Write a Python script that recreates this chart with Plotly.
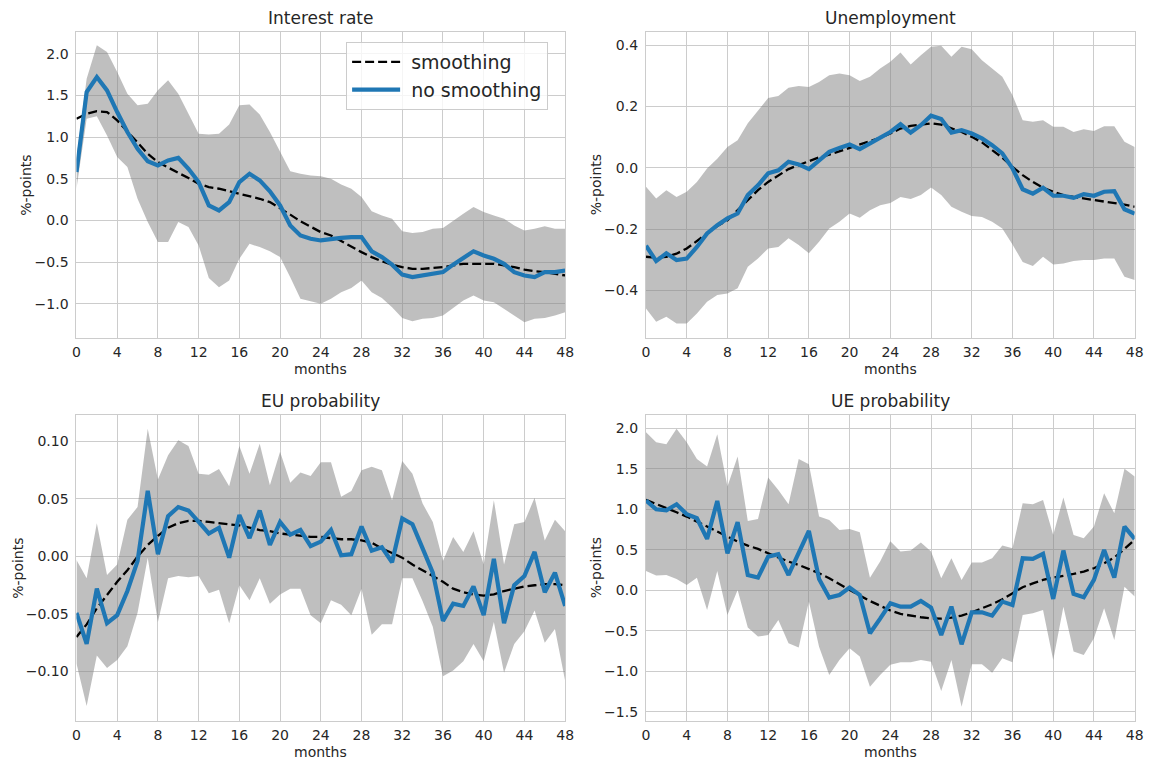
import plotly.graph_objects as go

months = list(range(49))
x_ticks = list(range(0, 49, 4))
titles = ["Interest rate", "Unemployment", "EU probability", "UE probability"]
legend_names = ["\u00a0smoothing", "\u00a0no smoothing"]

# ---- Interest rate ----
ir_smooth = [1.22, 1.28, 1.31, 1.30, 1.20, 1.07, 0.94, 0.80, 0.70, 0.63, 0.57, 0.51, 0.44, 0.40, 0.38, 0.35, 0.32,
             0.29, 0.26, 0.22, 0.15, 0.07, -0.01, -0.08, -0.14, -0.18, -0.25, -0.32, -0.38, -0.44, -0.49, -0.53,
             -0.56, -0.58, -0.58, -0.57, -0.56, -0.54, -0.52, -0.52, -0.52, -0.52, -0.54, -0.56, -0.59, -0.61,
             -0.62, -0.64, -0.66]
ir_raw = [0.58, 1.54, 1.72, 1.56, 1.30, 1.06, 0.86, 0.71, 0.66, 0.72, 0.75, 0.62, 0.46, 0.18, 0.12, 0.22, 0.46,
          0.56, 0.48, 0.35, 0.18, -0.06, -0.18, -0.22, -0.24, -0.22, -0.21, -0.20, -0.20, -0.37, -0.44, -0.53,
          -0.65, -0.68, -0.66, -0.64, -0.62, -0.53, -0.45, -0.37, -0.42, -0.46, -0.52, -0.62, -0.66, -0.68,
          -0.62, -0.62, -0.60]
ir_upper = [0.75, 1.70, 2.10, 2.02, 1.78, 1.52, 1.38, 1.40, 1.56, 1.68, 1.52, 1.28, 1.04, 1.03, 1.04, 1.15, 1.38,
            1.39, 1.27, 1.06, 0.83, 0.59, 0.56, 0.54, 0.53, 0.50, 0.43, 0.38, 0.28, 0.11, 0.06, 0.02, -0.13,
            -0.15, -0.14, -0.10, -0.09, 0.00, 0.08, 0.16, 0.10, 0.06, 0.02, -0.06, -0.12, -0.10, -0.07, -0.10,
            -0.10]
ir_lower = [0.38, 1.22, 1.25, 1.02, 0.76, 0.64, 0.26, -0.02, -0.26, -0.26, -0.02, -0.08, -0.30, -0.69, -0.80,
            -0.72, -0.46, -0.28, -0.32, -0.37, -0.44, -0.68, -0.94, -0.97, -1.00, -0.94, -0.86, -0.81, -0.72,
            -0.86, -0.93, -1.04, -1.17, -1.21, -1.18, -1.17, -1.14, -1.05, -0.96, -0.90, -0.96, -0.98, -1.05,
            -1.14, -1.22, -1.18, -1.17, -1.14, -1.10]

# ---- Unemployment ----
un_smooth = [-0.290, -0.293, -0.290, -0.280, -0.263, -0.239, -0.214, -0.190, -0.171, -0.138, -0.105, -0.073,
             -0.046, -0.024, -0.004, 0.009, 0.022, 0.034, 0.043, 0.054, 0.065, 0.074, 0.085, 0.098, 0.112, 0.128,
             0.137, 0.142, 0.145, 0.141, 0.130, 0.117, 0.101, 0.083, 0.058, 0.033, 0.003, -0.024, -0.046,
             -0.065, -0.078, -0.089, -0.095, -0.100, -0.105, -0.111, -0.114, -0.120, -0.127]
un_raw = [-0.254, -0.304, -0.279, -0.301, -0.296, -0.258, -0.214, -0.187, -0.165, -0.149, -0.089, -0.057, -0.018,
          -0.008, 0.020, 0.011, -0.004, 0.025, 0.052, 0.065, 0.076, 0.061, 0.079, 0.096, 0.117, 0.142, 0.115,
          0.139, 0.170, 0.159, 0.115, 0.123, 0.112, 0.096, 0.074, 0.047, -0.002, -0.070, -0.084, -0.065,
          -0.091, -0.091, -0.098, -0.086, -0.091, -0.078, -0.076, -0.135, -0.149]
un_upper = [-0.062, -0.100, -0.073, -0.095, -0.078, -0.046, -0.002, 0.030, 0.068, 0.090, 0.145, 0.185, 0.228,
            0.234, 0.261, 0.267, 0.264, 0.280, 0.302, 0.308, 0.302, 0.283, 0.297, 0.324, 0.346, 0.376, 0.337,
            0.367, 0.395, 0.398, 0.362, 0.395, 0.387, 0.351, 0.324, 0.297, 0.237, 0.155, 0.150, 0.155, 0.134,
            0.134, 0.117, 0.126, 0.120, 0.136, 0.136, 0.085, 0.068]
un_lower = [-0.459, -0.502, -0.486, -0.508, -0.508, -0.475, -0.437, -0.415, -0.410, -0.393, -0.323, -0.296,
            -0.263, -0.258, -0.230, -0.252, -0.279, -0.241, -0.198, -0.176, -0.149, -0.163, -0.138, -0.122,
            -0.115, -0.095, -0.102, -0.089, -0.064, -0.089, -0.127, -0.143, -0.157, -0.160, -0.176, -0.198,
            -0.250, -0.307, -0.320, -0.290, -0.315, -0.312, -0.304, -0.301, -0.301, -0.296, -0.296, -0.355,
            -0.366]

# ---- EU probability ----
eu_smooth = [-0.070, -0.059, -0.045, -0.033, -0.022, -0.012, 0.000, 0.010, 0.018, 0.025, 0.029, 0.031, 0.031,
             0.030, 0.029, 0.028, 0.027, 0.025, 0.023, 0.022, 0.020, 0.019, 0.018, 0.017, 0.017, 0.016, 0.015,
             0.015, 0.014, 0.012, 0.007, 0.003, -0.001, -0.007, -0.012, -0.017, -0.022, -0.028, -0.031, -0.033,
             -0.034, -0.033, -0.030, -0.028, -0.026, -0.025, -0.024, -0.024, -0.025]
eu_raw = [-0.049, -0.076, -0.028, -0.058, -0.051, -0.030, -0.004, 0.057, 0.002, 0.035, 0.043, 0.040, 0.030,
          0.020, 0.025, -0.001, 0.036, 0.016, 0.040, 0.010, 0.030, 0.019, 0.023, 0.009, 0.013, 0.023, 0.001,
          0.002, 0.026, 0.005, 0.008, -0.005, 0.033, 0.028, 0.007, -0.014, -0.056, -0.041, -0.043, -0.026,
          -0.051, -0.002, -0.058, -0.025, -0.017, 0.004, -0.031, -0.014, -0.043]
eu_upper = [-0.003, -0.019, 0.029, -0.016, -0.007, 0.032, 0.043, 0.111, 0.067, 0.088, 0.101, 0.096, 0.072,
            0.071, 0.076, 0.061, 0.096, 0.072, 0.098, 0.062, 0.091, 0.064, 0.073, 0.070, 0.082, 0.082, 0.052,
            0.057, 0.075, 0.078, 0.075, 0.049, 0.083, 0.072, 0.046, 0.030, -0.004, 0.017, 0.004, 0.022, -0.007,
            0.049, -0.007, 0.028, 0.030, 0.051, 0.014, 0.032, 0.022]
eu_lower = [-0.093, -0.130, -0.086, -0.097, -0.090, -0.078, -0.049, -0.001, -0.057, -0.019, -0.017, -0.018,
            -0.017, -0.032, -0.029, -0.058, -0.025, -0.038, -0.019, -0.041, -0.033, -0.028, -0.028, -0.051,
            -0.058, -0.038, -0.042, -0.051, -0.028, -0.068, -0.059, -0.059, -0.019, -0.019, -0.039, -0.061,
            -0.104, -0.099, -0.091, -0.076, -0.091, -0.057, -0.101, -0.076, -0.065, -0.047, -0.075, -0.063,
            -0.108]

# ---- UE probability ----
ue_smooth = [1.116, 1.062, 1.013, 0.963, 0.910, 0.848, 0.786, 0.725, 0.663, 0.601, 0.552, 0.511, 0.457, 0.403,
             0.354, 0.313, 0.263, 0.210, 0.148, 0.074, 0.004, -0.066, -0.132, -0.189, -0.250, -0.292, -0.317,
             -0.333, -0.346, -0.350, -0.338, -0.313, -0.272, -0.222, -0.173, -0.111, -0.037, 0.037, 0.086,
             0.128, 0.156, 0.177, 0.202, 0.231, 0.272, 0.333, 0.403, 0.511, 0.622]
ue_raw = [1.107, 1.000, 0.988, 1.062, 0.939, 0.889, 0.634, 1.103, 0.457, 0.840, 0.189, 0.156, 0.416, 0.445,
          0.189, 0.457, 0.733, 0.140, -0.091, -0.058, 0.033, -0.058, -0.531, -0.350, -0.160, -0.202, -0.202,
          -0.132, -0.214, -0.552, -0.202, -0.667, -0.272, -0.272, -0.313, -0.140, -0.181, 0.395, 0.387, 0.449,
          -0.107, 0.490, -0.045, -0.086, 0.128, 0.498, 0.156, 0.786, 0.634]
ue_upper = [1.951, 1.828, 1.803, 1.993, 1.828, 1.622, 1.527, 1.927, 1.280, 1.651, 0.856, 0.881, 1.392, 1.239,
            1.062, 1.622, 1.556, 0.910, 0.869, 0.745, 0.758, 0.716, 0.156, 0.354, 0.605, 0.478, 0.490, 0.589,
            0.478, 0.148, 0.395, 0.128, 0.342, 0.342, 0.395, 0.552, 0.519, 1.075, 1.062, 1.116, 0.683, 1.145,
            0.683, 0.642, 0.786, 1.198, 0.951, 1.499, 1.404]
ue_lower = [0.239, 0.181, 0.189, 0.140, 0.066, 0.156, -0.243, 0.239, -0.305, 0.004, -0.461, -0.572, -0.552,
            -0.366, -0.655, -0.708, -0.140, -0.696, -1.046, -0.860, -0.716, -0.819, -1.190, -1.046, -0.920,
            -0.889, -0.889, -0.860, -0.881, -1.243, -0.860, -1.437, -0.914, -0.914, -1.017, -0.840, -0.889,
            -0.305, -0.284, -0.243, -0.860, -0.202, -0.757, -0.799, -0.593, -0.222, -0.613, 0.045, -0.078]

smooth_sets = [ir_smooth, un_smooth, eu_smooth, ue_smooth]
raw_sets = [ir_raw, un_raw, eu_raw, ue_raw]
upper_sets = [ir_upper, un_upper, eu_upper, ue_upper]
lower_sets = [ir_lower, un_lower, eu_lower, ue_lower]

# ---- layout helpers (pixels of the 1157x763 page) ----
W, H = 1157, 763
col_px = [(73.3, 567.5), (649.3, 1143.5)]
row_px = [(32, 338), (415, 721)]
y_ranges = [(-1.41, 2.26), (-0.555, 0.443), (-0.143, 0.123), (-1.614, 2.164)]
y_dticks = [0.5, 0.2, 0.05, 0.5]
y_fmts = [".1f", ".1f", ".2f", ".1f"]
ylab_x = [22, 599, 14, 599]

TXT = "#262626"
GRID = "#cccccc"
FONT = "DejaVu Sans, Verdana, sans-serif"

fig = go.Figure()
annotations = []
layout = {}
for i in range(4):
    r, c = divmod(i, 2)
    x0, x1 = col_px[c]
    yt, yb = row_px[r]
    xd = [x0 / W, x1 / W]
    yd = [(H - yb) / H, (H - yt) / H]
    sfx = "" if i == 0 else str(i + 1)
    xa, ya = "x" + sfx, "y" + sfx
    layout["xaxis" + sfx] = dict(
        domain=xd, anchor=ya, range=[0, 48], tickmode="array", tickvals=x_ticks,
        showgrid=True, gridcolor=GRID, gridwidth=1, zeroline=False,
        showline=True, mirror=True, linecolor=GRID, linewidth=1.2,
        ticks="", ticklabelstandoff=1, tickfont=dict(size=14, color=TXT, family=FONT))
    layout["yaxis" + sfx] = dict(
        domain=yd, anchor=xa, range=list(y_ranges[i]), dtick=y_dticks[i], tick0=0,
        tickformat=y_fmts[i], showgrid=True, gridcolor=GRID, gridwidth=1, zeroline=False,
        showline=True, mirror=True, linecolor=GRID, linewidth=1.2,
        ticks="", ticklabelstandoff=4, tickfont=dict(size=14, color=TXT, family=FONT))

    up, lo = upper_sets[i], lower_sets[i]
    fig.add_trace(go.Scatter(
        x=months + months[::-1], y=up + lo[::-1], fill="toself",
        fillcolor="rgba(128,128,128,0.5)", line=dict(width=0), mode="lines",
        hoverinfo="skip", showlegend=False, xaxis=xa, yaxis=ya))
    fig.add_trace(go.Scatter(
        x=months, y=smooth_sets[i], mode="lines", name=legend_names[0],
        line=dict(color="black", width=2.3, dash="9px,4px"),
        showlegend=(i == 0), xaxis=xa, yaxis=ya))
    fig.add_trace(go.Scatter(
        x=months, y=raw_sets[i], mode="lines", name=legend_names[1],
        line=dict(color="#1f77b4", width=4.2),
        showlegend=(i == 0), xaxis=xa, yaxis=ya))

    cx = (x0 + x1) / 2 / W
    annotations.append(dict(text=titles[i], x=cx, y=(H - (yt - 14)) / H, xref="paper", yref="paper",
                            xanchor="center", yanchor="middle", showarrow=False,
                            font=dict(size=17, color=TXT, family=FONT)))
    annotations.append(dict(text="months", x=cx, y=(H - (yb + 31)) / H, xref="paper", yref="paper",
                            xanchor="center", yanchor="middle", showarrow=False,
                            font=dict(size=14, color=TXT, family=FONT)))
    annotations.append(dict(text="%-points", x=ylab_x[i] / W, y=(H - (yt + yb) / 2) / H, xref="paper",
                            yref="paper", xanchor="center", yanchor="middle", showarrow=False,
                            textangle=-90, font=dict(size=14, color=TXT, family=FONT)))

fig.update_layout(
    width=W, height=H, margin=dict(l=0, r=0, t=0, b=0),
    paper_bgcolor="white", plot_bgcolor="white",
    font=dict(family=FONT, color=TXT),
    annotations=annotations,
    legend=dict(x=346 / W, y=(H - 42) / H, xanchor="left", yanchor="top",
                bgcolor="rgba(255,255,255,0.8)", bordercolor=GRID, borderwidth=1,
                font=dict(size=19, color=TXT, family=FONT), itemwidth=48,
                tracegroupgap=0),
    **layout)

fig.write_html("out.html", config={"displayModeBar": False},
               post_script="document.body.style.margin='0';document.body.style.overflow='hidden';")
